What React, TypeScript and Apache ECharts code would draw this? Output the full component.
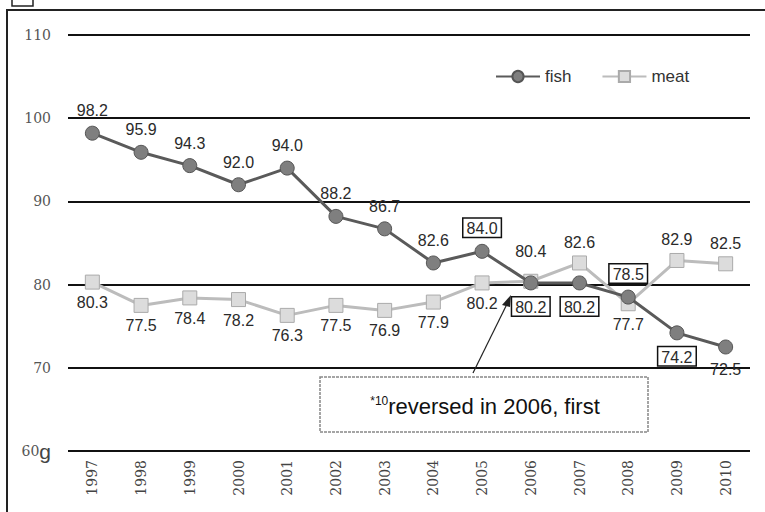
import React, { useEffect, useRef } from "react";
import * as echarts from "echarts";

const years = ["1997", "1998", "1999", "2000", "2001", "2002", "2003", "2004", "2005", "2006", "2007", "2008", "2009", "2010"];
const fish = [98.2, 95.9, 94.3, 92.0, 94.0, 88.2, 86.7, 82.6, 84.0, 80.2, 80.2, 78.5, 74.2, 72.5];
const meat = [80.3, 77.5, 78.4, 78.2, 76.3, 77.5, 76.9, 77.9, 80.2, 80.4, 82.6, 77.7, 82.9, 82.5];
const fishLabelPos = ["top", "top", "top", "top", "top", "top", "top", "top", "top", "bottom", "bottom", "top", "bottom", "bottom"];
const fishBoxed = [false, false, false, false, false, false, false, false, true, true, true, true, true, false];
const meatLabelPos = ["bottom", "bottom", "bottom", "bottom", "bottom", "bottom", "bottom", "bottom", "bottom", "top", "top", "bottom", "top", "top"];
const yMin = 60;
const yMax = 110;
const yStep = 10;
const noteSup = "*10";
const noteText = "reversed in 2006, first";

export default function App() {
  const ref = useRef<HTMLDivElement>(null);
  useEffect(() => {
    if (!ref.current) return;
    const chart = echarts.init(ref.current, null, { renderer: "svg" });
    const labelFont = { fontFamily: "Liberation Sans", fontSize: 16, color: "#2a2a2a" };
    const box = { borderColor: "#111", borderWidth: 1.5, padding: [2, 3, 0, 3], backgroundColor: "#fff" };
    chart.setOption({
      animation: false,
      backgroundColor: "#fff",
      grid: { left: 68, right: 15, top: 35, bottom: 61 },
      legend: {
        top: 63,
        left: 490,
        itemWidth: 44,
        itemHeight: 14,
        itemGap: 30,
        textStyle: { fontFamily: "Liberation Sans", fontSize: 17, color: "#333" },
        data: ["fish", "meat"],
      },
      xAxis: {
        type: "category",
        data: years,
        boundaryGap: true,
        axisLine: { show: false },
        axisTick: { show: false },
        axisLabel: { rotate: 90, margin: 9, fontFamily: "DejaVu Serif", fontSize: 14, color: "#444" },
      },
      yAxis: {
        type: "value",
        min: yMin,
        max: yMax,
        interval: yStep,
        axisLine: { show: false },
        axisTick: { show: false },
        splitLine: { lineStyle: { color: "#111", width: 2 } },
        axisLabel: {
          margin: 17,
          fontFamily: "DejaVu Serif",
          fontSize: 14,
          color: "#555",
          formatter: (v: number) => (v === yMin ? "{a|" + v + "}{g|g}" : String(v)),
          rich: {
            a: { fontFamily: "DejaVu Serif", fontSize: 14, color: "#555" },
            g: { fontFamily: "Liberation Sans", fontSize: 21, color: "#444" },
          },
        },
      },
      series: [
        {
          name: "fish",
          type: "line",
          data: fish.map((v, i) => ({
            value: v,
            label: { position: fishLabelPos[i], ...(fishBoxed[i] ? box : {}) },
          })),
          symbol: "circle",
          symbolSize: 14,
          lineStyle: { color: "#5a5a5a", width: 3 },
          itemStyle: { color: "#7f7f7f", borderColor: "#555", borderWidth: 1 },
          label: { show: true, formatter: (p: any) => p.value.toFixed(1), distance: 7, ...labelFont },
          z: 3,
        },
        {
          name: "meat",
          type: "line",
          data: meat.map((v, i) => ({
            value: v,
            label: { position: meatLabelPos[i], distance: i === 9 ? 14 : 5 },
          })),
          symbol: "rect",
          symbolSize: 14,
          lineStyle: { color: "#bcbcbc", width: 3 },
          itemStyle: { color: "#dcdcdc", borderColor: "#aaa", borderWidth: 1 },
          label: { show: true, formatter: (p: any) => p.value.toFixed(1), ...labelFont },
          z: 2,
        },
      ],
      graphic: [
        { type: "rect", shape: { x: 7, y: 10, width: 800, height: 600 }, style: { fill: "none", stroke: "#222", lineWidth: 2 }, silent: true },
        { type: "rect", shape: { x: 12, y: -3, width: 21, height: 9 }, style: { fill: "none", stroke: "#222", lineWidth: 1.5 }, silent: true },
        { type: "line", shape: { x1: 473, y1: 373, x2: 508, y2: 302 }, style: { stroke: "#222", lineWidth: 1.2 }, z: 10 },
        { type: "polygon", shape: { points: [[511, 295], [502, 305], [510, 307]] }, style: { fill: "#222" }, z: 10 },
        { type: "rect", shape: { x: 320, y: 377, width: 328, height: 55 }, style: { fill: "#fff", stroke: "#888", lineWidth: 1.5, lineDash: [3, 1] }, z: 10 },
        {
          type: "text",
          x: 485,
          y: 406,
          z: 11,
          style: {
            text: "{s|" + noteSup + "}{m|" + noteText + "}",
            align: "center",
            verticalAlign: "middle",
            rich: {
              s: { fontFamily: "Liberation Sans", fontSize: 12, fill: "#111", verticalAlign: "top", padding: [0, 0, 10, 0] },
              m: { fontFamily: "Liberation Sans", fontSize: 22, fill: "#111" },
            },
          },
        },
      ],
    });
    return () => chart.dispose();
  }, []);
  return <div ref={ref} style={{ position: "fixed", left: 0, top: 0, width: 765, height: 512 }} />;
}
